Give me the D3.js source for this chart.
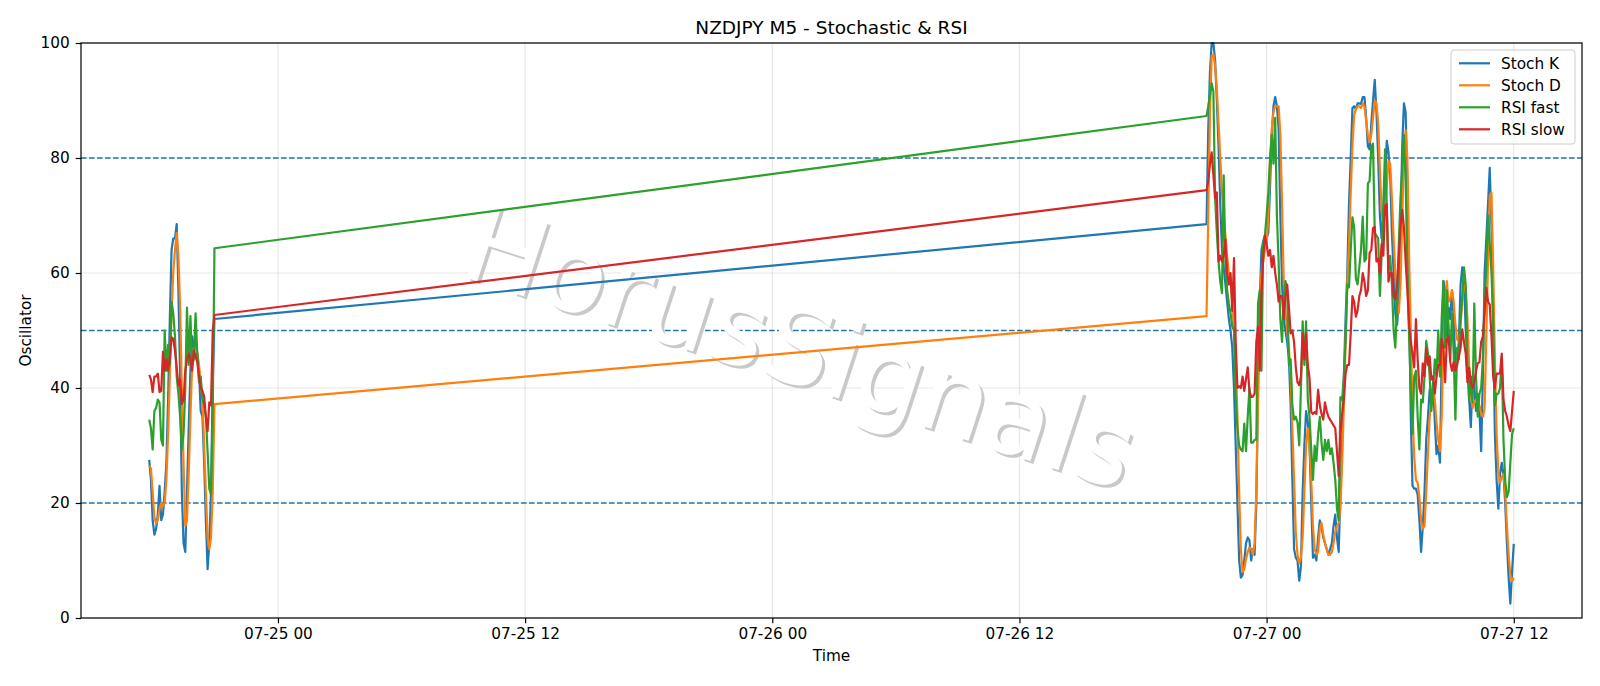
<!DOCTYPE html>
<html>
<head>
<meta charset="utf-8">
<script src="https://cdn.jsdelivr.net/npm/d3@7"></script>
<style>
    body { margin: 0; background: #fff; }
    svg text { font-family: "DejaVu Sans", sans-serif; }
</style>
</head>
<body>
<div class="chart"></div>
<script>
// M5 bars: friday evening session, then sunday night -> monday noon
const fridayStart = "2020-07-24T17:45:00Z";
const sundayStart = "2020-07-26T21:05:00Z";
const barMinutes = 5;

const stochK_fri = [27.5,24,17,14.5,15.5,18,23,17,18,22,27,38,52,64,66,66,68.5,57,42,22,13,11.5,22,33,43,49,47,48,46,43,36,35,27,17,8.5,13,22,41,52];
const stochD_fri = [26.5,26,22,17.5,16.5,17,19,20,19.5,20,24,32,42,53,60,64,67,63,54,40,27,16,17,25,35,44,47,47,46,44,41,38,30,22,14,12,14,22,37.2];
const rsiFast_fri = [34.5,33,29.3,36,36.5,38,37.5,31,30,50,43,47.5,44,55,53,49,42,39,35,29.3,32,40,54,44,52.5,44,45,53,46,41,42,38,37,35,29,22.5,21.5,36,64.3];
const rsiSlow_fri = [42.3,41.5,39.3,42,42,42.5,39.3,39.5,46.3,43,45,43,45,48.8,48.5,46.5,43.6,40.4,41.5,37.2,38,43,45,46,45,43,46.5,45.5,44.5,42,40,39.5,38.5,35,32.5,37.5,37,50,52.7];

const stochK_sun = [
    68.5,85,95,100,100,97,90,82,72,64,61,58,55,52,50,47,40,30,20,10,7,7.5,10,13,14,13.5,10,12,11,20,40,55,64,65.5,66.5,66,67,75,84,89,90.6,89,85,
    70,58,52,50,48,45,37,24,12,10.5,10,6.5,9,22,30,36,34,30,20,10.5,11,10,14,17,16,14,13,12,11,12,13,16,18,14,11.5,22,30,42,52,60,72,80,88.7,89,88.5,89.5,89.5,
    89.4,90.6,90.6,87,82,81.5,86,90,93.6,88,80,70,66,70,76,83,81,77,67,60,53,51,55,68,82,89.5,88,75,55,35,23,22.5,22.5,21.5,17,11.5,16,22,31,35,39.7,38,41,34,28.5,30,
    27,45,58.6,57,49,54,52,57,52,44,45,48,58,61,59,50,45,38,33.2,42,40,36,39,36,29,42,60,66,72,78.3,68,50,32,24,19,25,27,25,20,13,7,2.5,8,12.9
];
const stochD_sun = [
    52.5,70,88,97.8,98,96,92,86,80,74,70,66.5,63,60,58.6,55,50,45,35,22,12,8,8.5,10.3,11.5,12.3,12,11,13,22,38,52,60,62,64,65,70,79,85,88,89,89,89,
    84,72,58,53,50,47,42,33,24,15,11,9.5,10.5,14,22,30,33,30,24,16,12,11,11.5,15.5,16.5,14.5,13,12,11,11,11.5,13,15,16,16.5,19,27,37,48,58,65,74,82,87.5,88.5,89,89,
    88.7,89.5,89,86.5,84,82.8,84,87,90,89.5,86,78,71,68,71,75,79.5,79,73,66,60,53.5,53,58,69,81,84.8,80,63,50,36,28,24,23.5,21,17,15.5,16,22,28.6,35,38,40,38,34,31,
    29,35,48,54,58.6,55,55.5,57,55,51,48.5,48,51,55,58,57.5,52,44,39,36.5,37.5,38,37,37,35.5,35,36.5,49,62,73.5,74,61,45,32,25.5,23.5,24.5,25,22,16,11,7.5,6.4,7
];
const rsiFast_sun = [
    87.3,89,91,93,91.5,73,67,62,58.5,56.5,77,62,57,54.7,53,50.7,50,38.4,33,30,29.3,29,33.8,29,35,40,30.5,30.5,31,31,54.7,57,43,65,66.5,70,74,80,84,79,87,70,62,
    52,48,56,58.6,57,44,45,37,34.5,35,34,30,40,51.6,44,51.6,38,35,29.3,24,30,27.3,32,35,30.5,27.5,31,29,31,28.5,29.5,27,24,19,17,38.4,38,42,48,58,57.5,64,69.7,68,59,58,61,
    64,69.8,62,62.5,75.6,76,82,82.5,67,66.5,66,56,63,72,81.5,72,60,63,58,50,47,55,65,73,78,84,76,60,49,40,32,42,43,35,29.3,38,37.5,42,48.2,46,42,36,40,45,42,50,
    42,52,58.6,47,57,51,45,53,46,34.5,47,45,52,56,61,58,44,38,42,37.5,54.7,42,35,39,40,45,55,61,70,65,60,52,37,39,39,40,45.5,31,24,21,22,27,32,33
];
const rsiSlow_sun = [
    74.4,76,79,81,77,73,74,62,63,62,63,65.8,60,58,60,53.4,62.6,48,40,40.3,40,42,39.5,41.6,43.6,39.5,38.4,38.5,39,48,50.7,43,56.6,62.5,66.5,65,63,64,61,63,60,58,55,
    56,56,52,56,58,54,49.5,50,48,43.6,41,40.5,42,49.5,45,49.5,44,41.7,35.8,35.5,35.8,35.5,39.7,37,35.5,34.5,37.5,36,35,34.5,34,33.5,33,29,24.7,32,35.5,38,42.5,44,44,49.5,56,55,52.4,53.5,56,
    57,60,58.5,56,57,63.5,64,67.8,68,62,62.5,60,65,63,71.7,72,58.5,60,60,56,55.4,58,63,68,71,68,62,57,51,48,46,43.6,52,45,40,39,44.3,42,46.9,44,45.5,41.5,42,39,42,44,
    44,48.5,47,41,48.5,49,44.5,43,44.5,43,44,45.5,47,50.2,48,46,41,43.5,41,40,41,43,44.3,44.5,48,49,53,57.4,55,54.5,49,42,40,42.5,42.5,42.5,46,38,36,35,33.5,32.5,36,39.5
];

const seriesNames = ["Stoch K", "Stoch D", "RSI fast", "RSI slow"];
const seriesColors = ["#1f77b4", "#ff7f0e", "#2ca02c", "#d62728"];
const xTickTimes = ["2020-07-25T00:00:00Z", "2020-07-25T12:00:00Z", "2020-07-26T00:00:00Z", "2020-07-26T12:00:00Z", "2020-07-27T00:00:00Z", "2020-07-27T12:00:00Z"];
const yTicks = [0, 20, 40, 60, 80, 100];
const levels = [80, 50, 20];

let barTimes = (start, n) => d3.range(n).map(i => new Date(Date.parse(start) + i * barMinutes * 60000));

let drawChart = () => {
    let times = barTimes(fridayStart, stochK_fri.length).concat(barTimes(sundayStart, stochK_sun.length));
    let series = [
        stochK_fri.concat(stochK_sun),
        stochD_fri.concat(stochD_sun),
        rsiFast_fri.concat(rsiFast_sun),
        rsiSlow_fri.concat(rsiSlow_sun)
    ];

    let margin = {top: 43, right: 18, bottom: 68, left: 81},
        width = 1600 - margin.left - margin.right,
        height = 686 - margin.top - margin.bottom;

    let root = d3.select(".chart")
        .append("svg")
        .attr("width", 1600)
        .attr("height", 686);

    let svg = root.append("g")
        .attr("transform", "translate(" + margin.left + "," + margin.top + ")");

    // x scale with matplotlib-like 5% margins
    let [t0, t1] = d3.extent(times);
    let pad = (t1 - t0) * 0.05;
    let x = d3.scaleUtc()
        .domain([new Date(+t0 - pad), new Date(+t1 + pad)])
        .range([0, width]);
    let y = d3.scaleLinear()
        .domain([0, 100])
        .range([height, 0]);

    let tickDates = xTickTimes.map(d => new Date(d));

    // grid
    svg.append("g")
        .selectAll("line")
        .data(tickDates)
        .join("line")
        .attr("x1", d => x(d)).attr("x2", d => x(d))
        .attr("y1", 0).attr("y2", height)
        .attr("stroke", "#b0b0b0").attr("stroke-opacity", 0.3).attr("stroke-width", 1.2);
    svg.append("g")
        .selectAll("line")
        .data(yTicks)
        .join("line")
        .attr("x1", 0).attr("x2", width)
        .attr("y1", d => y(d)).attr("y2", d => y(d))
        .attr("stroke", "#b0b0b0").attr("stroke-opacity", 0.3).attr("stroke-width", 1.2);

    // overbought / mid / oversold
    svg.append("g")
        .selectAll("line")
        .data(levels)
        .join("line")
        .attr("x1", 0).attr("x2", width)
        .attr("y1", d => y(d)).attr("y2", d => y(d))
        .attr("stroke", "#1f77b4")
        .attr("stroke-width", 1.5)
        .attr("stroke-dasharray", "5.6,2.4");

    // watermark
    let wmx = 799 - margin.left, wmy = 352 - margin.top;
    svg.append("text")
        .attr("transform", "translate(" + (wmx + 3) + "," + (wmy + 3) + ")rotate(18)")
        .attr("text-anchor", "middle")
        .attr("dy", "0.3em")
        .style("font-size", "107px")
        .attr("fill", "#c9c9c9")
        .text("HorusSignals");
    svg.append("text")
        .attr("transform", "translate(" + wmx + "," + wmy + ")rotate(18)")
        .attr("text-anchor", "middle")
        .attr("dy", "0.3em")
        .style("font-size", "107px")
        .attr("fill", "#ffffff")
        .text("HorusSignals");

    // series
    let line = d3.line()
        .x((d, i) => x(times[i]))
        .y(d => y(d));
    svg.append("g")
        .selectAll("path")
        .data(series)
        .join("path")
        .attr("d", d => line(d))
        .attr("fill", "none")
        .attr("stroke", (d, i) => seriesColors[i])
        .attr("stroke-width", 2.2)
        .attr("stroke-linejoin", "round");

    // axes
    let xAxis = svg.append("g")
        .attr("transform", "translate(0," + height + ")")
        .call(d3.axisBottom(x)
            .tickValues(tickDates)
            .tickFormat(d3.utcFormat("%m-%d %H"))
            .tickSize(5.3)
            .tickPadding(5.3)
            .tickSizeOuter(0));
    let yAxis = svg.append("g")
        .call(d3.axisLeft(y)
            .tickValues(yTicks)
            .tickSize(5.3)
            .tickPadding(6)
            .tickSizeOuter(0));
    [xAxis, yAxis].forEach(ax => {
        ax.select(".domain").remove();
        ax.attr("font-family", null).attr("font-size", null);
        ax.selectAll("text").style("font-size", "15.3px").attr("fill", "#000");
        ax.selectAll("line").attr("stroke", "#000").attr("stroke-width", 1.2);
    });

    // spines
    svg.append("rect")
        .attr("width", width)
        .attr("height", height)
        .attr("fill", "none")
        .attr("stroke", "#000")
        .attr("stroke-width", 1.2);

    // labels
    root.append("text")
        .attr("x", margin.left + width / 2)
        .attr("y", 34)
        .attr("text-anchor", "middle")
        .style("font-size", "18.5px")
        .text("NZDJPY M5 - Stochastic & RSI");
    root.append("text")
        .attr("x", margin.left + width / 2)
        .attr("y", 661)
        .attr("text-anchor", "middle")
        .style("font-size", "15.3px")
        .text("Time");
    root.append("text")
        .attr("transform", "translate(26," + (margin.top + height / 2) + ")rotate(-90)")
        .attr("text-anchor", "middle")
        .attr("dy", "0.35em")
        .style("font-size", "15.3px")
        .text("Oscillator");

    // legend
    let legend = root.append("g").attr("transform", "translate(1451,50)");
    legend.append("rect")
        .attr("width", 124)
        .attr("height", 94)
        .attr("rx", 3)
        .attr("fill", "#fff")
        .attr("fill-opacity", 0.8)
        .attr("stroke", "#cccccc");
    let rows = legend.selectAll("g.row")
        .data(seriesNames)
        .join("g")
        .attr("class", "row")
        .attr("transform", (d, i) => "translate(0," + (13.3 + i * 22) + ")");
    rows.append("line")
        .attr("x1", 8).attr("x2", 39)
        .attr("stroke", (d, i) => seriesColors[i])
        .attr("stroke-width", 2.2);
    rows.append("text")
        .attr("x", 50)
        .attr("dy", "0.36em")
        .style("font-size", "15.3px")
        .text(d => d);
}
drawChart();
</script>
</body>
</html>
